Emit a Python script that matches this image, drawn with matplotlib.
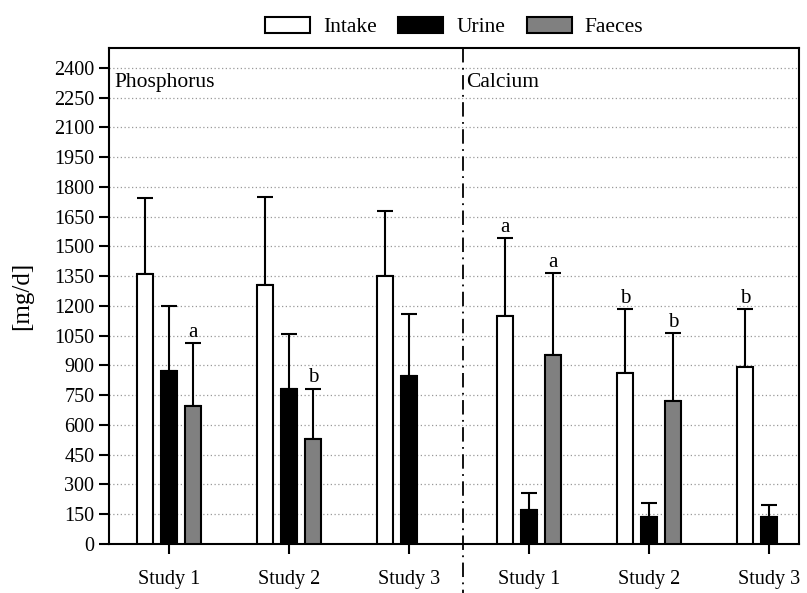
import numpy as np
import matplotlib
matplotlib.use("Agg")
import matplotlib.pyplot as plt
from matplotlib.patches import Patch
import matplotlib.transforms as mtransforms

# groups: Phosphorus Study 1-3, Calcium Study 1-3
studies = ["Study 1", "Study 2", "Study 3", "Study 1", "Study 2", "Study 3"]
intake = [1360, 1306, 1351, 1150, 864, 891]
intake_sd = [383, 442, 328, 394, 319, 292]
urine = [874, 780, 847, 171, 138, 138]
urine_sd = [326, 279, 311, 85, 70, 57]
faeces = [697, 528, np.nan, 955, 723, np.nan]
faeces_sd = [315, 255, np.nan, 410, 339, np.nan]
intake_lab = ["", "", "", "a", "b", "b"]
urine_lab = ["", "", "", "", "", ""]
faeces_lab = ["a", "b", "", "a", "b", ""]
yticks = list(range(0, 2401, 150))

plt.rcParams['font.family'] = ['Liberation Serif', 'DejaVu Serif']
plt.rcParams['font.size'] = 14.5

fig = plt.figure(figsize=(8.07, 5.93), dpi=100)
ax = fig.add_axes([0.135, 0.0826, 0.855, 0.8364])

x = np.arange(len(studies))
w = 0.135
off = 0.2
series = [
    (intake, intake_sd, intake_lab, "white", -off, "Intake"),
    (urine, urine_sd, urine_lab, "black", 0, "Urine"),
    (faeces, faeces_sd, faeces_lab, "#808080", off, "Faeces"),
]

handles = []
for vals, sds, labs, col, dx, name in series:
    vals = np.array(vals, dtype=float)
    sds = np.array(sds, dtype=float)
    ok = ~np.isnan(vals)
    xs = x[ok] + dx
    ax.bar(xs, vals[ok], w, color=col, edgecolor="black", linewidth=1.5, zorder=3)
    ax.errorbar(xs, vals[ok], yerr=[np.zeros(ok.sum()), sds[ok]], fmt="none",
                ecolor="black", elinewidth=1.5, capsize=5.8, capthick=1.5, zorder=2)
    for xi, v, s, lab in zip(xs, vals[ok], sds[ok], np.array(labs)[ok]):
        if lab:
            ax.text(xi, v + s + 6, lab, ha="center", va="bottom", fontsize=15)
    handles.append(Patch(facecolor=col, edgecolor="black", linewidth=1.5, label=name))

ax.set_xlim(-0.5, 5.25)
ax.set_ylim(0, 2500)
ax.set_yticks(yticks)
ax.set_xticks(x)
ax.set_xticklabels(studies)
ax.tick_params(axis="both", direction="out", length=7.5, width=1.5, labelsize=14.5)
ax.tick_params(axis="x", pad=11)
ax.tick_params(axis="y", pad=3)
for sp in ax.spines.values():
    sp.set_linewidth(1.5)
ax.yaxis.grid(True, linestyle=(0, (1, 2)), color="#999999", linewidth=0.9)
ax.set_axisbelow(True)
ax.set_ylabel("[mg/d]", fontsize=18)
ax.yaxis.set_label_coords(-0.110, 0.5)

# divider between phosphorus and calcium
trans = mtransforms.blended_transform_factory(ax.transData, ax.transAxes)
ax.plot([2.45, 2.45], [1, -0.1], transform=trans, color="black", linewidth=1.3,
        linestyle=(0, (8, 3, 1, 3)), clip_on=False, zorder=4)

ax.text(0.008, 0.93, "Phosphorus", transform=ax.transAxes, ha="left", va="center", fontsize=15.5)
ax.text(2.48, 0.93, "Calcium", transform=trans, ha="left", va="center", fontsize=15.5)

ax.legend(handles=handles, loc="lower center", bbox_to_anchor=(0.5, 1.0), ncol=3,
          frameon=False, fontsize=15.5, handlelength=2.1, handleheight=0.75,
          handletextpad=0.6, columnspacing=1.0, borderaxespad=0.1)

fig.savefig("out.png", dpi=100)
